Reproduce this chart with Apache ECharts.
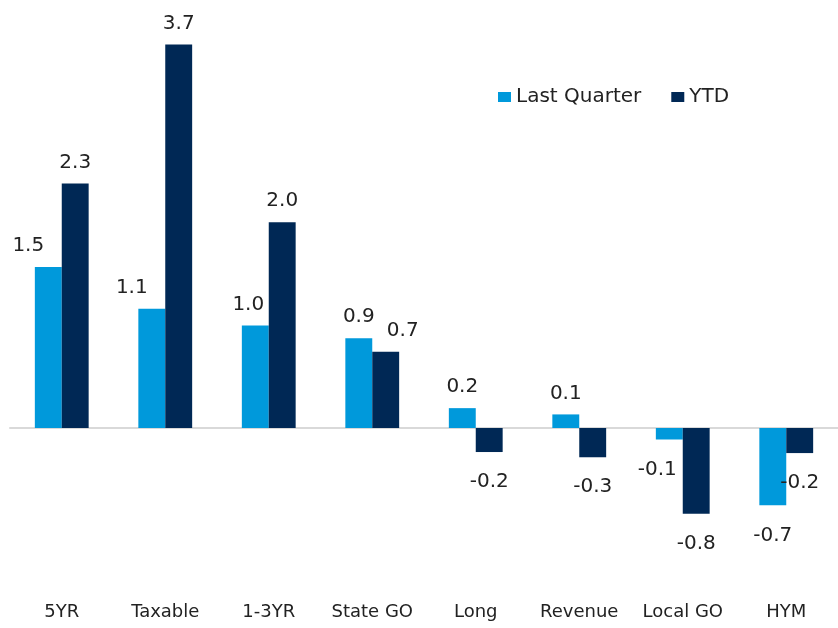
<!DOCTYPE html>
<html>
<head>
<meta charset="utf-8">
<title>Last Quarter vs YTD</title>
<script src="https://cdn.jsdelivr.net/npm/echarts@6/dist/echarts.min.js"></script>
<style>
    html, body { margin: 0; padding: 0; background: #fff; }
    #chart { width: 838px; height: 628px; }
</style>
</head>
<body>
<div id="chart"></div>
<script>
// categories + values
var categories = ['5YR', 'Taxable', '1-3YR', 'State GO', 'Long', 'Revenue', 'Local GO', 'HYM'];
var lastQuarter = [1.54, 1.14, 0.98, 0.86, 0.19, 0.13, -0.11, -0.74];
var ytd = [2.34, 3.67, 1.97, 0.73, -0.23, -0.28, -0.82, -0.24];

// label nudges (px) so labels don't collide, like the original
var lastQuarterLabelDx = [-20, -20, -7, 0, 0, 0, -12, 0];
var ytdLabelDx = [0, 0, 0, 17, 0, 0, 0, 0];

var LIGHT = '#0099DB';
var DARK = '#002855';
var TEXT = '#222222';
var FONT = 'DejaVu Sans';

/**
 * build bar data with per item label placement
 */
function buildData(values, dx) {
    var out = [];
    for (var i = 0; i < values.length; i++) {
        var neg = values[i] < 0;
        out.push({
            value: values[i],
            label: {
                position: neg ? 'bottom' : 'top',
                distance: neg ? 20 : 11,
                offset: [dx[i], 0]
            }
        });
    }
    return out;
}

var labelStyle = {
    show: true,
    color: TEXT,
    fontFamily: FONT,
    fontSize: 20,
    formatter: function (p) { return p.value.toFixed(1); }
};

var chart = echarts.init(document.getElementById('chart'));

chart.setOption({
    animation: false,
    textStyle: { fontFamily: FONT },
    legend: {
        data: ['Last Quarter', 'YTD'],
        left: 493,
        top: 82,
        itemWidth: 13,
        itemHeight: 10,
        itemGap: 30,
        icon: 'rect',
        textStyle: { color: TEXT, fontSize: 20, fontFamily: FONT }
    },
    grid: {
        left: 10,
        top: 10,
        width: 836,
        height: 564.3,
        containLabel: false
    },
    xAxis: [{
        type: 'category',
        data: categories,
        axisLine: { show: false, onZero: false },
        axisTick: { show: false },
        axisLabel: {
            color: TEXT,
            fontFamily: FONT,
            fontSize: 18,
            margin: 29,
            interval: 0
        }
    }, {
        // zero line only
        type: 'category',
        data: categories,
        position: 'bottom',
        axisLine: { show: true, onZero: true, lineStyle: { color: '#d9d9d9', width: 2 } },
        axisTick: { show: false },
        axisLabel: { show: false }
    }],
    yAxis: {
        type: 'value',
        min: -1.4,
        max: 4,
        show: false,
        splitLine: { show: false }
    },
    series: [{
        name: 'Last Quarter',
        type: 'bar',
        xAxisIndex: 0,
        data: buildData(lastQuarter, lastQuarterLabelDx),
        barGap: '0%',
        barCategoryGap: '48%',
        itemStyle: { color: LIGHT },
        label: labelStyle
    }, {
        name: 'YTD',
        type: 'bar',
        xAxisIndex: 0,
        data: buildData(ytd, ytdLabelDx),
        barGap: '0%',
        barCategoryGap: '48%',
        itemStyle: { color: DARK },
        label: labelStyle
    }]
});
</script>
</body>
</html>
